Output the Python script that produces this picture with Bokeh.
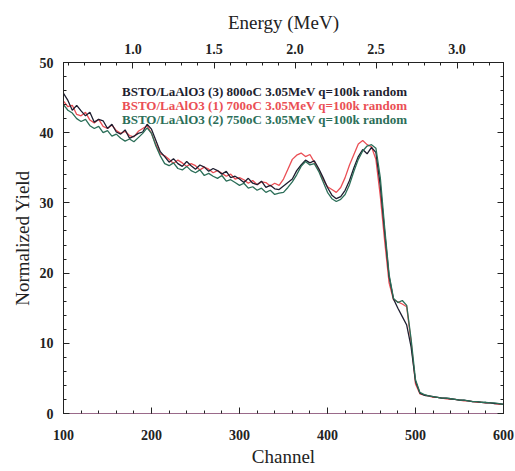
from bokeh.plotting import figure
from bokeh.models import (Range1d, LinearAxis, SingleIntervalTicker, NumeralTickFormatter,
                          CustomJSTickFormatter, Legend, LegendItem)
from bokeh.embed import file_html
from bokeh.resources import INLINE

# RBS spectra, channel 100..600 in steps of 5
channel = list(range(100, 605, 5))

# BSTO/LaAlO3 (3) 800oC
yield_800 = [
    45.6, 44.6, 43.2, 43.9, 43.1, 42.4, 42.9, 41.5, 41.9, 41.7,
    40.6, 41.2, 40.1, 39.8, 40.4, 39.2, 39.5, 39.9, 40.1, 41.2,
    40.5, 38.9, 37.3, 36.6, 35.8, 36.3, 35.6, 35.2, 35.9, 35.3,
    34.8, 35.4, 35.1, 34.5, 34.9, 34.6, 34.1, 34.5, 33.6, 33.8,
    33.4, 32.9, 33.5, 32.8, 32.6, 33.1, 32.2, 32.5, 32.0, 31.9,
    32.4, 32.9, 33.4, 34.6, 35.4, 36.1, 35.7, 36.0, 34.9, 33.6,
    32.2, 31.1, 30.6, 30.9, 31.8, 33.2, 35.0, 36.6, 37.6, 37.0,
    37.9, 37.2, 32.5, 25.8, 19.5, 16.3, 15.0, 13.8, 12.6, 9.5,
    4.6, 2.9, 2.6, 2.5, 2.4, 2.3, 2.2, 2.2, 2.1, 2.0,
    1.9, 1.9, 1.8, 1.7, 1.7, 1.6, 1.5, 1.5, 1.4, 1.4,
    1.3,
]

# BSTO/LaAlO3 (1) 700oC
yield_700 = [
    44.5, 43.7, 43.9, 42.6, 42.4, 42.9, 41.8, 41.4, 41.9, 40.9,
    40.6, 41.1, 40.3, 39.9, 40.2, 39.6, 39.4, 40.2, 40.6, 41.0,
    39.9, 38.3, 37.0, 36.7, 36.2, 35.6, 36.1, 35.7, 35.2, 35.6,
    35.3, 34.7, 35.1, 34.8, 34.3, 34.6, 34.2, 33.8, 34.1, 33.4,
    33.6, 33.3, 32.8, 33.2, 32.6, 33.0, 32.9, 32.4, 32.8, 32.5,
    33.4, 34.8, 36.2, 36.8, 37.1, 36.6, 36.9, 35.8, 34.7, 33.3,
    32.3, 31.9, 31.5, 32.2, 33.6, 35.4, 36.9, 38.4, 38.9, 38.3,
    38.0, 36.2, 31.0, 24.5, 18.6, 16.2, 15.9, 15.6, 15.2, 10.2,
    4.2, 2.8, 2.6, 2.5, 2.3, 2.3, 2.2, 2.1, 2.0, 2.0,
    1.9, 1.8, 1.8, 1.7, 1.6, 1.6, 1.5, 1.5, 1.4, 1.3,
    1.3,
]

# BSTO/LaAlO3 (2) 750oC
yield_750 = [
    44.0, 43.2, 42.8, 42.0, 41.6, 41.9, 41.0, 40.6, 40.9, 40.0,
    40.3, 39.5, 39.8, 39.2, 38.8, 39.1, 38.7, 39.3, 39.9, 40.7,
    39.9, 38.1, 36.7, 35.6, 35.3, 35.7, 34.9, 34.7, 35.2, 34.6,
    34.3, 34.7, 33.9, 34.2, 33.8, 33.5, 33.9, 33.1, 33.3, 32.9,
    32.5, 32.8, 32.1, 32.3, 31.8, 32.1, 31.5, 31.8, 31.2, 31.4,
    31.5, 32.2, 33.0, 34.0, 35.2, 35.9, 35.4, 35.6, 34.5, 33.0,
    31.5, 30.6, 30.2, 30.5, 31.2, 32.6, 34.5, 36.2, 37.4, 38.1,
    38.3, 37.8, 33.6, 26.4, 19.8, 16.4, 15.8, 16.1, 15.4, 10.6,
    4.8, 3.0, 2.7, 2.5, 2.4, 2.3, 2.2, 2.2, 2.1, 2.0,
    1.9, 1.9, 1.8, 1.7, 1.7, 1.6, 1.6, 1.5, 1.5, 1.4,
    1.3,
]

labels = [
    "BSTO/LaAlO3 (3) 800oC 3.05MeV q=100k random",
    "BSTO/LaAlO3 (1) 700oC 3.05MeV q=100k random",
    "BSTO/LaAlO3 (2) 750oC 3.05MeV q=100k random",
]

# energy scale of the top axis (MeV) at the two ends of the channel range
energy_range = (0.571, 3.287)

SERIF = "Liberation Serif"
C_800 = "#1e1e30"
C_700 = "#ea4f55"
C_750 = "#2b6e58"

p = figure(width=515, height=471, output_backend="svg", toolbar_location=None,
           x_range=Range1d(100, 600), y_range=Range1d(0, 50),
           x_axis_location=None, y_axis_location=None)
p.min_border_left = 63
p.min_border_right = 12
p.min_border_top = 62
p.min_border_bottom = 58
p.xgrid.visible = False
p.ygrid.visible = False
p.outline_line_color = "#222222"
p.background_fill_color = "white"
p.border_fill_color = "white"

p.extra_x_ranges = {"energy": Range1d(*energy_range)}


def style_axis(ax):
    ax.axis_line_color = "#222222"
    ax.major_tick_line_color = "#222222"
    ax.minor_tick_line_color = "#222222"
    ax.major_tick_in = 6
    ax.major_tick_out = 0
    ax.minor_tick_in = 3
    ax.minor_tick_out = 0
    ax.major_label_text_font = SERIF
    ax.major_label_text_font_style = "bold"
    ax.major_label_text_font_size = "14px"
    ax.major_label_text_color = "#222222"
    ax.axis_label_text_font = SERIF
    ax.axis_label_text_font_style = "normal"
    ax.axis_label_text_font_size = "19px"
    ax.axis_label_text_color = "#222222"


bottom = LinearAxis(ticker=SingleIntervalTicker(interval=100, num_minor_ticks=5),
                    axis_label="Channel")
style_axis(bottom)
bottom.axis_line_color = "#9a6a8a"
bottom.major_label_standoff = 16
bottom.axis_label_standoff = 3
p.add_layout(bottom, "below")

top = LinearAxis(x_range_name="energy",
                 ticker=SingleIntervalTicker(interval=0.5, num_minor_ticks=5),
                 formatter=NumeralTickFormatter(format="0.0"),
                 axis_label="Energy (MeV)")
style_axis(top)
top.major_label_standoff = 9
top.axis_label_standoff = 8
p.add_layout(top, "above")

left = LinearAxis(ticker=SingleIntervalTicker(interval=10, num_minor_ticks=5),
                  axis_label="Normalized Yield")
style_axis(left)
left.major_label_standoff = 10
left.axis_label_standoff = 4
p.add_layout(left, "left")

# right frame edge carries the same ticks, without labels
right = LinearAxis(ticker=SingleIntervalTicker(interval=10, num_minor_ticks=5),
                   formatter=CustomJSTickFormatter(code="return ''"))
style_axis(right)
right.major_label_standoff = 0
p.add_layout(right, "right")

# spectra
p.line(channel, yield_700, line_color=C_700, line_width=1.3)
p.line(channel, yield_800, line_color=C_800, line_width=1.3)
p.line(channel, yield_750, line_color=C_750, line_width=1.3)

# legend sample lines
key_800 = p.line([], [], line_color="#7a88a8", line_width=1.2, line_dash="3 1")
key_700 = p.line([], [], line_color="#f2a8b4", line_width=1.2)
key_750 = p.line([], [], line_color="#5f9a88", line_width=1.2)

for key, lab, col, y in [(key_800, labels[0], C_800, 313),
                         (key_700, labels[1], C_700, 299),
                         (key_750, labels[2], C_750, 285)]:
    lg = Legend(items=[LegendItem(label=lab, renderers=[key])],
                location=(12, y), padding=0, margin=0, spacing=0,
                glyph_width=42, glyph_height=14, label_height=14,
                label_standoff=5,
                border_line_color=None, background_fill_alpha=0,
                label_text_font=SERIF, label_text_font_style="bold",
                label_text_font_size="13px", label_text_color=col)
    p.add_layout(lg, "center")

open("out.html", "w").write(file_html(p, INLINE))
